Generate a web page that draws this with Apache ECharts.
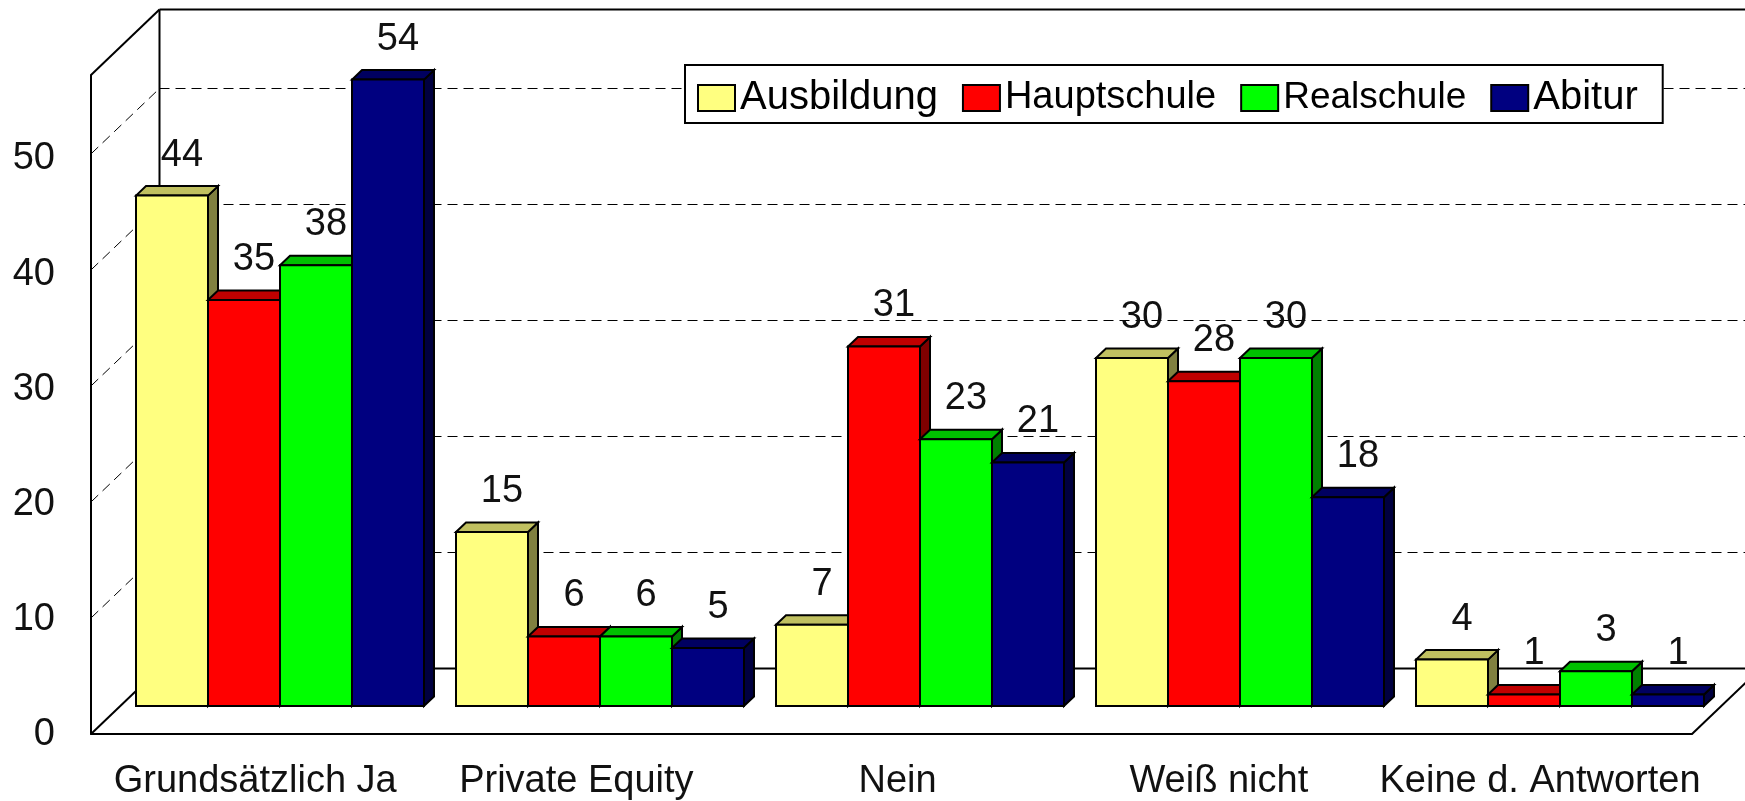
<!DOCTYPE html>
<html>
<head>
<meta charset="utf-8">
<style>
  html, body { margin: 0; padding: 0; background: #fff; }
  #chart { width: 1745px; height: 801px; }
</style>
<script src="https://cdn.jsdelivr.net/npm/echarts@6/dist/echarts.min.js"></script>
</head>
<body>
<div id="chart"></div>
<script>
var categories = ['Grundsätzlich Ja', 'Private Equity', 'Nein', 'Weiß nicht', 'Keine d. Antworten'];
var ausbildung = [44, 15, 7, 30, 4];
var hauptschule = [35, 6, 31, 28, 1];
var realschule = [38, 6, 23, 30, 3];
var abitur = [54, 5, 21, 18, 1];
var wallTicks = [10, 20, 30, 40, 50];

var fontName = '"Liberation Sans", Arial, sans-serif';
var depthX = 68.5, depthY = 65.5;  // wall depth
var barDepthX = 10, barDepthY = 9.5;
var black = '#000';

// front, top, side colours of each series
var yellow = ['#ffff80', '#c0c060', '#808040'];
var red = ['#ff0000', '#c00000', '#800000'];
var green = ['#00ff00', '#00c000', '#008000'];
var navy = ['#000080', '#000060', '#000040'];

function poly(points, color) {
  return {
    type: 'polygon',
    shape: { points: points },
    style: { fill: color, stroke: black, lineWidth: 2 }
  };
}

function line(x1, y1, x2, y2, dashed) {
  return {
    type: 'line',
    shape: { x1: x1, y1: y1, x2: x2, y2: y2 },
    style: {
      stroke: black,
      lineWidth: dashed ? 1 : 2,
      lineDash: dashed ? [10, 6] : null
    }
  };
}

// one 3d box, drawn from the value through the bar plane axes
function barSeries(name, values, colors, index) {
  return {
    type: 'custom',
    name: name,
    xAxisIndex: 1,
    yAxisIndex: 1,
    itemStyle: { color: colors[0], borderColor: black, borderWidth: 2 },
    encode: { x: 0, y: 1 },
    data: values.map(function (v, i) { return [i, v]; }),
    renderItem: function (params, api) {
      var top = api.coord([api.value(0), api.value(1)]);
      var base = api.coord([api.value(0), 0]);
      var band = api.size([1, 0])[0];
      var w = band * 0.225;
      var x0 = top[0] - 2 * w + index * w;
      var x1 = x0 + w;
      var y0 = top[1], y1 = base[1];
      return {
        type: 'group',
        children: [
          poly([[x1, y0], [x1 + barDepthX, y0 - barDepthY], [x1 + barDepthX, y1 - barDepthY], [x1, y1]], colors[2]),
          poly([[x0, y0], [x0 + barDepthX, y0 - barDepthY], [x1 + barDepthX, y0 - barDepthY], [x1, y0]], colors[1]),
          poly([[x0, y0], [x1, y0], [x1, y1], [x0, y1]], colors[0]),
          {
            type: 'text',
            z2: 50,
            style: {
              text: String(api.value(1)),
              x: (x0 + x1) / 2 + barDepthX,
              y: y0 - barDepthY - 12,
              align: 'center',
              verticalAlign: 'bottom',
              font: '38px ' + fontName,
              fill: '#111'
            }
          }
        ]
      };
    }
  };
}

var option = {
  animation: false,
  backgroundColor: '#fff',
  legend: {
    data: [
      { name: 'Ausbildung', textStyle: { fontSize: 40 } },
      { name: 'Hauptschule', textStyle: { fontSize: 38 } },
      { name: 'Realschule', textStyle: { fontSize: 37 } },
      { name: 'Abitur', textStyle: { fontSize: 40 } }
    ],
    left: 685,
    top: 65,
    padding: [13, 25, 5, 12],
    backgroundColor: '#fff',
    borderColor: black,
    borderWidth: 2,
    itemWidth: 37,
    itemHeight: 26,
    itemGap: 24,
    icon: 'rect',
    textStyle: { fontFamily: fontName, fontSize: 39, color: black }
  },
  grid: [
    { left: 91, top: 75, width: 1601, height: 659 },     // front edge of the floor
    { left: 120, top: 10, width: 1600, height: 696 },    // plane of the bars
    { left: 94.6, top: 80.5, width: 1606, height: 659 }  // axis labels
  ],
  xAxis: [
    {
      gridIndex: 0,
      type: 'category',
      data: categories,
      axisLine: { lineStyle: { color: black, width: 2 } },
      axisTick: { show: false },
      axisLabel: { show: false }
    },
    { gridIndex: 1, type: 'category', data: categories, show: false },
    {
      gridIndex: 2,
      type: 'category',
      data: categories,
      axisLine: { show: false },
      axisTick: { show: false },
      axisLabel: { interval: 0, margin: 28, fontFamily: fontName, fontSize: 38, color: '#111' }
    }
  ],
  yAxis: [
    {
      gridIndex: 0,
      type: 'value',
      min: 0,
      max: 56.8,
      interval: 10,
      axisLine: { show: true, lineStyle: { color: black, width: 2 } },
      axisTick: { show: false },
      splitLine: { show: false },
      axisLabel: { show: false }
    },
    { gridIndex: 1, type: 'value', min: 0, max: 60, interval: 10, show: false },
    {
      gridIndex: 2,
      type: 'value',
      min: 0,
      max: 56.8,
      interval: 10,
      axisLine: { show: false },
      axisTick: { show: false },
      splitLine: { show: false },
      axisLabel: { showMaxLabel: false, margin: 39.6, fontFamily: fontName, fontSize: 38, color: '#111' }
    }
  ],
  series: [
    {
      // back wall and left wall grid lines
      type: 'custom',
      xAxisIndex: 0,
      yAxisIndex: 0,
      encode: { y: 0 },
      data: wallTicks.map(function (v) { return [v]; }),
      renderItem: function (params, api) {
        var rect = params.coordSys;
        var y = api.coord([0, api.value(0)])[1];
        var bx = rect.x + depthX, by = Math.round(y - depthY) + 0.5;
        return {
          type: 'group',
          children: [
            line(rect.x, y, bx, by, true),
            line(bx, by, api.getWidth(), by, true)
          ]
        };
      }
    },
    {
      // box outline: floor edges, back wall, top
      type: 'custom',
      xAxisIndex: 0,
      yAxisIndex: 0,
      encode: { y: 0 },
      data: [[0]],
      renderItem: function (params, api) {
        var rect = params.coordSys;
        var left = rect.x, right = rect.x + rect.width;
        var top = rect.y, floor = rect.y + rect.height;
        var bx = left + depthX;
        var w = api.getWidth();
        return {
          type: 'group',
          children: [
            line(left, top, bx, top - depthY),
            line(bx, top - depthY, w, top - depthY),
            line(bx, top - depthY, bx, floor - depthY),
            line(left, floor, bx, floor - depthY),
            line(bx, floor - depthY, w, floor - depthY),
            line(right, floor, right + depthX, floor - depthY)
          ]
        };
      }
    },
    barSeries('Ausbildung', ausbildung, yellow, 0),
    barSeries('Hauptschule', hauptschule, red, 1),
    barSeries('Realschule', realschule, green, 2),
    barSeries('Abitur', abitur, navy, 3)
  ]
};

var chart = echarts.init(document.getElementById('chart'));
chart.setOption(option);
</script>
</body>
</html>
